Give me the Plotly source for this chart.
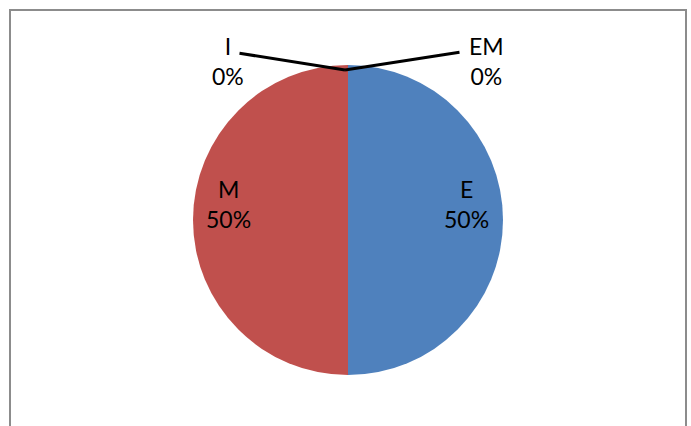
import plotly.graph_objects as go

# Share of responses by category
labels = ["E", "M", "EM", "I"]
values = [50, 50, 0, 0]
colors = ["#4F81BD", "#C0504D", "#4BACC6", "#9BBB59"]

W, H = 691, 426
total = sum(values)
pct = {lab: f"{round(100 * v / total)}%" for lab, v in zip(labels, values)}

# pie geometry in pixels
cx, cy, r = 348, 220, 155


def px(x):
    return x / W


def py(y):
    return 1 - y / H


fig = go.Figure()
fig.add_trace(go.Pie(
    labels=labels,
    values=values,
    marker=dict(colors=colors, line=dict(width=0)),
    sort=False,
    direction="clockwise",
    rotation=0,
    textinfo="none",
    hoverinfo="label+percent",
    showlegend=False,
    domain=dict(x=[px(cx - r), px(cx + r)], y=[py(cy + r), py(cy - r)]),
))

font = dict(family="Lato, Carlito, Calibri, sans-serif", size=23, color="#000000")

# data labels (pixel positions of label centres)
label_pos = {"E": (466, 204), "M": (228, 204), "EM": (486, 61), "I": (228, 61)}
annotations = []
for lab in labels:
    x, y = label_pos[lab]
    annotations.append(dict(
        x=px(x), y=py(y), xref="paper", yref="paper",
        text=f"{lab}<br>{pct[lab]}", showarrow=False,
        font=font, align="center", xanchor="center", yanchor="middle",
    ))

# leader lines from the zero slices at the top of the pie
top = (cx - 3, cy - r + 5)
for dx, dy in [(-107, -17), (116, -18)]:
    annotations.append(dict(
        x=px(top[0]), y=py(top[1]), xref="paper", yref="paper",
        ax=dx, ay=dy, text="", showarrow=True, arrowhead=0,
        arrowwidth=3, arrowcolor="#000000", standoff=0, startstandoff=0,
    ))

fig.update_layout(
    width=W, height=H,
    margin=dict(l=0, r=0, t=0, b=0),
    paper_bgcolor="white",
    plot_bgcolor="white",
    annotations=annotations,
    shapes=[dict(
        type="rect", xref="paper", yref="paper",
        x0=px(10), x1=px(686), y0=py(440), y1=py(10),
        line=dict(color="#8C8C8C", width=2), fillcolor="rgba(0,0,0,0)",
    )],
)

fig.write_html("out.html")
